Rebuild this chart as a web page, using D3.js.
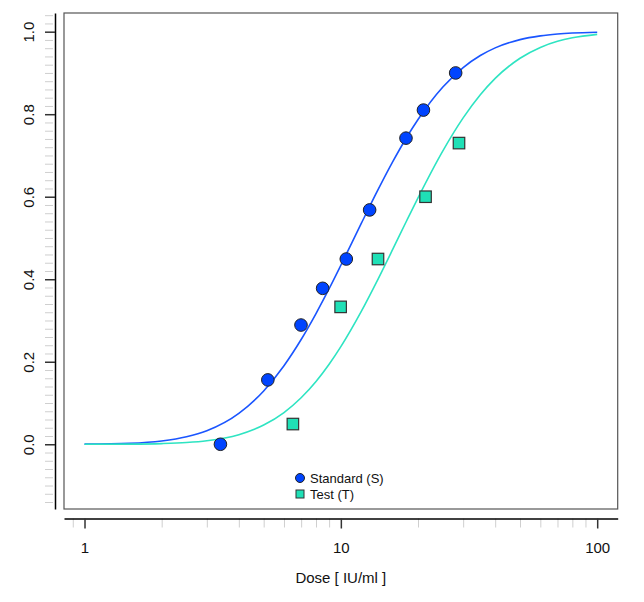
<!DOCTYPE html>
<html>
<head>
<meta charset="utf-8">
<script src="https://cdn.jsdelivr.net/npm/d3@7"></script>
<style>
  body { margin: 0; background: #fff; }
  svg { display: block; font-family: "Liberation Sans", Arial, sans-serif; }
</style>
</head>
<body>
<div id="chart"></div>
<script>
// observed points
var stdDose = [3.39, 5.19, 6.99, 8.49, 10.5, 12.95, 17.95, 21.0, 28.05];
var stdResp = [0.0, 0.156, 0.289, 0.378, 0.449, 0.568, 0.742, 0.810, 0.900];
var testDose = [6.5, 9.98, 13.96, 21.4, 28.9];
var testResp = [0.049, 0.333, 0.449, 0.600, 0.730];

// fitted curves
var curveDose = [1, 1.5, 2, 2.5, 3, 4, 5, 6, 7, 8, 9, 10, 12, 14, 16, 18, 20, 25, 30, 35, 40, 50, 60, 70, 80, 100];
var stdFit = [0.0004, 0.0025, 0.0081, 0.0182, 0.0329, 0.0750, 0.1293, 0.1905, 0.2540, 0.3169, 0.3771, 0.4339,
    0.5347, 0.6183, 0.6868, 0.7424, 0.7872, 0.8658, 0.9131, 0.9423, 0.9608, 0.9808, 0.9899, 0.9944, 0.9968, 0.9988];
var testFit = [0.0000, 0.0004, 0.0016, 0.0041, 0.0084, 0.0233, 0.0465, 0.0769, 0.1127, 0.1522, 0.1940, 0.2367,
    0.3215, 0.4016, 0.4746, 0.5399, 0.5973, 0.7111, 0.7910, 0.8471, 0.8868, 0.9357, 0.9619, 0.9766, 0.9851, 0.9935];

// ticks
var xMajor = [1, 10, 100];
var xMinor = [0.9, 2, 3, 4, 5, 6, 7, 8, 9, 20, 30, 40, 50, 60, 70, 80, 90];
var yMajor = [0, 0.2, 0.4, 0.6, 0.8, 1.0];
var yMinor = d3.range(-7, 53).map(function (i) { return i * 0.02; })
    .filter(function (v) { return Math.abs(v * 5 - Math.round(v * 5)) > 1e-6 && v < 0 || (Math.abs(v * 5 - Math.round(v * 5)) > 1e-6 && v <= 1.041); });

var legendLabels = ["Standard (S)", "Test (T)"];
var blue = "#0044ff", blueLine = "#1a55ff";
var teal = "#1fe0b6", tealLine = "#2ee4c2";

function makeChart(divID) {
    var width = 644, height = 602;
    var box = { left: 64, right: 617.7, top: 13, bottom: 509 };

    var svg = d3.select("#" + divID).append("svg")
        .attr("width", width)
        .attr("height", height);

    var x = d3.scaleLog()
        .domain([Math.pow(10, -0.08), Math.pow(10, 2.08)])
        .range([box.left, box.right]);
    var y = d3.scaleLinear()
        .domain([-0.1569, 1.0453])
        .range([box.bottom, box.top]);

    // plot frame
    svg.append("rect")
        .attr("x", box.left).attr("y", box.top)
        .attr("width", box.right - box.left).attr("height", box.bottom - box.top)
        .attr("fill", "none").attr("stroke", "#555").attr("stroke-width", 1.2);

    // x axis, drawn below the frame
    var xAxisY = 518.5;
    var gxMinor = svg.append("g")
        .attr("transform", "translate(0," + xAxisY + ")")
        .call(d3.axisBottom(x).tickValues(xMinor).tickSize(9).tickFormat(""));
    gxMinor.select(".domain").remove();
    gxMinor.selectAll(".tick line").attr("stroke", "#cfcfcf");

    var gx = svg.append("g")
        .attr("transform", "translate(0," + xAxisY + ")")
        .call(d3.axisBottom(x).tickValues(xMajor).tickSize(10).tickSizeOuter(0)
            .tickFormat(d3.format("d")));
    gx.select(".domain").attr("stroke", "#000").attr("stroke-width", 1.5);
    gx.selectAll(".tick line").attr("stroke", "#333").attr("stroke-width", 1.5);
    gx.selectAll(".tick text")
        .attr("y", 24).attr("dy", "0.71em")
        .style("font-size", "15px").attr("fill", "#111");

    svg.append("text")
        .attr("x", (box.left + box.right) / 2)
        .attr("y", 583)
        .attr("text-anchor", "middle")
        .style("font-size", "15px")
        .attr("fill", "#111")
        .text("Dose [ IU/ml ]");

    // y axis
    var yAxisX = 55;
    var gyMinor = svg.append("g")
        .attr("transform", "translate(" + yAxisX + ",0)")
        .call(d3.axisLeft(y).tickValues(yMinor).tickSize(8).tickSizeOuter(0).tickFormat(""));
    gyMinor.select(".domain").remove();
    gyMinor.selectAll(".tick line").attr("stroke", "#cfcfcf").attr("transform", "translate(-2,0)");

    var gy = svg.append("g")
        .attr("transform", "translate(" + yAxisX + ",0)")
        .call(d3.axisLeft(y).tickValues(yMajor).tickSize(10).tickSizeOuter(0)
            .tickFormat(d3.format(".1f")));
    gy.select(".domain").attr("stroke", "#000").attr("stroke-width", 1.5);
    gy.selectAll(".tick line").attr("stroke", "#333").attr("stroke-width", 1.5);
    gy.selectAll(".tick text")
        .attr("transform", "rotate(-90)")
        .attr("x", 0).attr("y", -21.5).attr("dy", 0)
        .attr("text-anchor", "middle")
        .style("font-size", "15px").attr("fill", "#111");

    // fitted curves
    var line = d3.line()
        .x(function (d) { return x(d[0]); })
        .y(function (d) { return y(d[1]); })
        .curve(d3.curveMonotoneX);

    svg.append("path")
        .datum(d3.zip(curveDose, stdFit))
        .attr("d", line)
        .attr("fill", "none").attr("stroke", blueLine).attr("stroke-width", 1.6);
    svg.append("path")
        .datum(d3.zip(curveDose, testFit))
        .attr("d", line)
        .attr("fill", "none").attr("stroke", tealLine).attr("stroke-width", 1.6);

    // observed points
    svg.selectAll(".stdPt")
        .data(d3.zip(stdDose, stdResp))
        .enter()
        .append("circle")
        .attr("class", "stdPt")
        .attr("cx", function (d) { return x(d[0]); })
        .attr("cy", function (d) { return y(d[1]); })
        .attr("r", 6.3)
        .attr("fill", blue).attr("stroke", "#222").attr("stroke-width", 1);

    var sq = 11.5;
    svg.selectAll(".testPt")
        .data(d3.zip(testDose, testResp))
        .enter()
        .append("rect")
        .attr("class", "testPt")
        .attr("x", function (d) { return x(d[0]) - sq / 2; })
        .attr("y", function (d) { return y(d[1]) - sq / 2; })
        .attr("width", sq).attr("height", sq)
        .attr("fill", teal).attr("stroke", "#333").attr("stroke-width", 1.2);

    // legend
    var legend = svg.append("g").attr("transform", "translate(300,478)");
    legend.append("circle")
        .attr("cx", 0).attr("cy", 0).attr("r", 4.5)
        .attr("fill", blue).attr("stroke", "#222").attr("stroke-width", 1);
    legend.append("rect")
        .attr("x", -4).attr("y", 16 - 4).attr("width", 8).attr("height", 8)
        .attr("fill", teal).attr("stroke", "#333").attr("stroke-width", 1);
    legend.selectAll("text")
        .data(legendLabels)
        .enter()
        .append("text")
        .attr("x", 10)
        .attr("y", function (d, i) { return i * 16; })
        .attr("dy", "0.35em")
        .style("font-size", "13px")
        .attr("fill", "#111")
        .text(function (d) { return d; });
}

makeChart("chart");
</script>
</body>
</html>
